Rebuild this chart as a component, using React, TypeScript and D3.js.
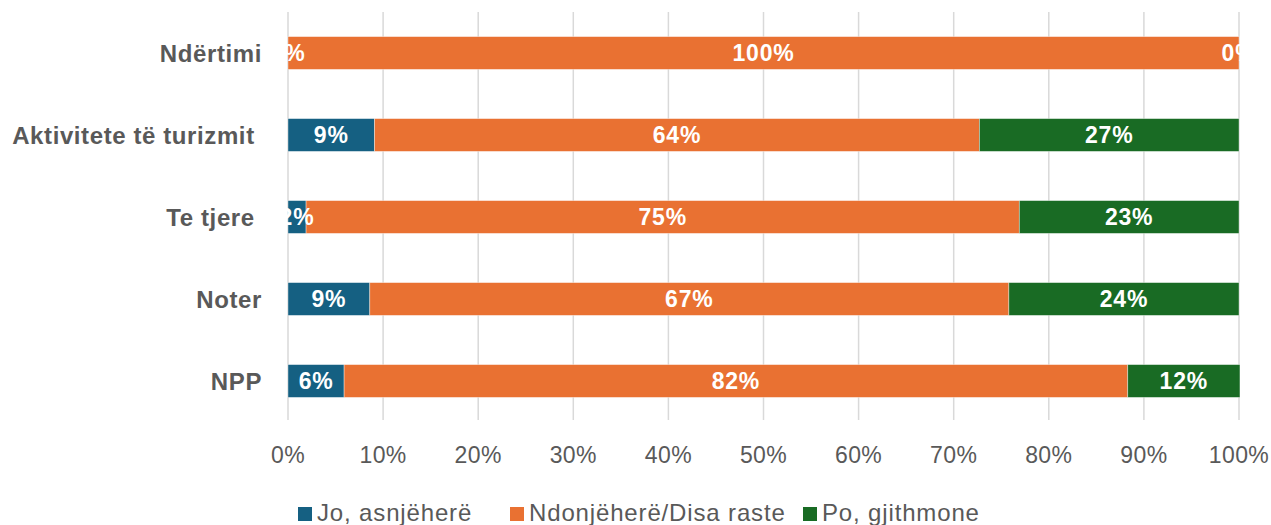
import * as d3 from 'd3';

const categories = ['Ndërtimi', 'Aktivitete të turizmit ', 'Te tjere ', 'Noter', 'NPP'];
const seriesNames = ['Jo, asnjëherë', 'Ndonjëherë/Disa raste', 'Po, gjithmone'];
const joValues = [0, 9.1, 1.9, 8.6, 5.9];
const ndonjehereValues = [100, 63.6, 75.0, 67.2, 82.4];
const poValues = [0, 27.3, 23.1, 24.2, 11.8];
const xTicks = [0, 10, 20, 30, 40, 50, 60, 70, 80, 90, 100];

const colors = ['#156082', '#E97132', '#196B24'];
const font = '"Liberation Sans", Arial, sans-serif';

const App = () => {
  const width = 1271;
  const height = 525;

  const x = d3.scaleLinear().domain([0, 100]).range([288, 1239]);
  const y = d3.scaleBand().domain(categories).range([12, 422]);
  const barH = y.bandwidth() * 0.4;

  const rows = categories.map((c, i) => ({
    cat: c,
    s0: joValues[i],
    s1: ndonjehereValues[i],
    s2: poValues[i],
  }));
  const stacked = d3.stack().keys(['s0', 's1', 's2'])(rows as any);

  const legendX = [298, 510, 803];

  return (
    <svg
      width={width}
      height={height}
      style={{ position: 'absolute', left: 0, top: 0, background: '#fff' }}
    >
      {/* grid */}
      {xTicks.map((t) => (
        <line key={t} x1={x(t)} x2={x(t)} y1={12} y2={420} stroke="#D9D9D9" strokeWidth={1.5} />
      ))}

      {/* bars */}
      {stacked.map((layer, si) => (
        <g key={si}>
          {layer.map((d, i) => {
            const cy = (y(categories[i]) as number) + y.bandwidth() / 2;
            return (
              <rect
                key={i}
                x={x(d[0])}
                y={cy - barH / 2}
                width={x(d[1]) - x(d[0])}
                height={barH}
                fill={colors[si]}
                stroke="#fff"
                strokeOpacity={0.5}
                strokeWidth={0.75}
              />
            );
          })}
        </g>
      ))}

      {/* data labels */}
      {stacked.map((layer, si) => (
        <g key={'l' + si}>
          {layer.map((d, i) => {
            const cy = (y(categories[i]) as number) + y.bandwidth() / 2;
            return (
              <text
                key={i}
                x={(x(d[0]) + x(d[1])) / 2}
                y={cy}
                dy="0.36em"
                textAnchor="middle"
                fill="#fff"
                fontFamily={font}
                fontWeight="bold"
                fontSize={23}
                letterSpacing={0.8}
              >
                {Math.round(d[1] - d[0]) + '%'}
              </text>
            );
          })}
        </g>
      ))}

      {/* category labels */}
      {categories.map((c) => (
        <text
          key={c}
          x={262}
          y={(y(c) as number) + y.bandwidth() / 2}
          dy="0.36em"
          textAnchor="end"
          fill="#595959"
          fontFamily={font}
          fontWeight="bold"
          fontSize={24}
          letterSpacing={0.6}
          style={{ whiteSpace: 'pre' }}
        >
          {c}
        </text>
      ))}

      {/* x tick labels */}
      {xTicks.map((t) => (
        <text
          key={'t' + t}
          x={x(t)}
          y={463}
          textAnchor="middle"
          fill="#595959"
          fontFamily={font}
          fontSize={23}
          letterSpacing={0.4}
        >
          {t + '%'}
        </text>
      ))}

      {/* legend */}
      {seriesNames.map((s, i) => (
        <g key={s}>
          <rect x={legendX[i]} y={507} width={14} height={14} fill={colors[i]} />
          <text
            x={legendX[i] + 19}
            y={521}
            fill="#595959"
            fontFamily={font}
            fontSize={24}
            letterSpacing={0.85}
          >
            {s}
          </text>
        </g>
      ))}
    </svg>
  );
};

export default App;
